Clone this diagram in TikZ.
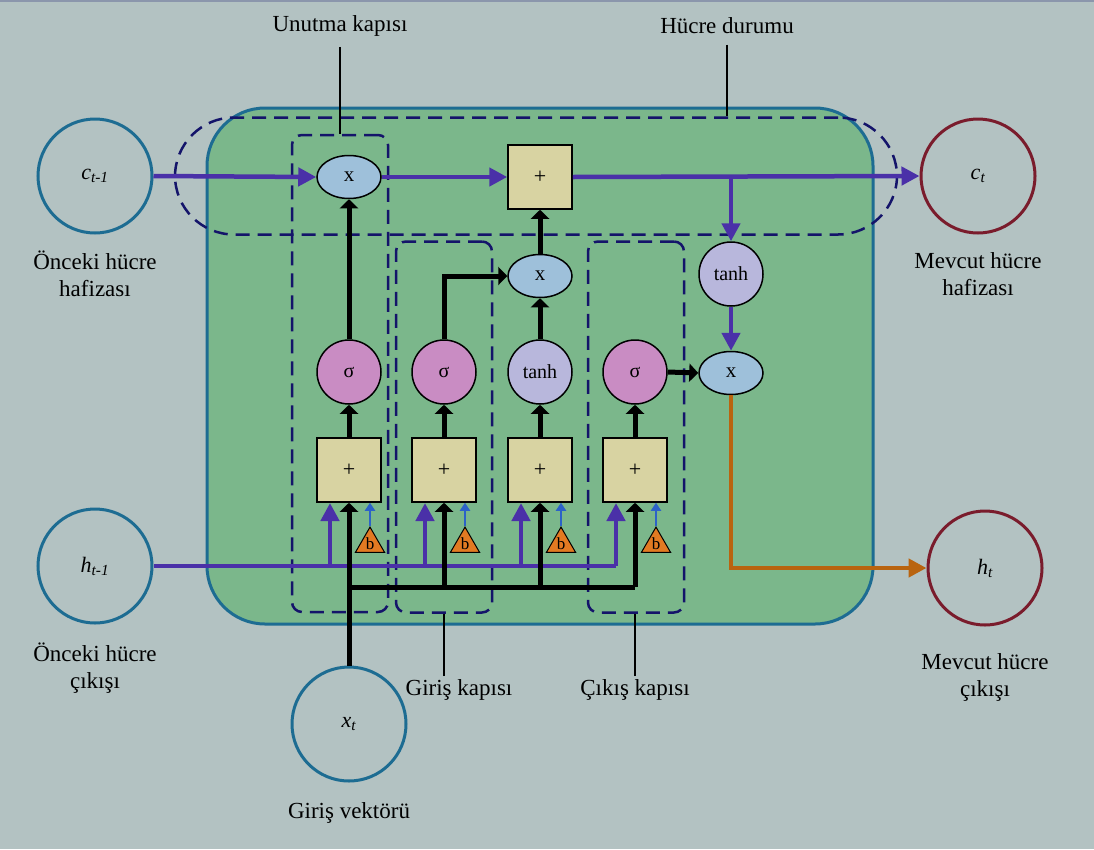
\documentclass[tikz,border=0pt]{standalone}
\usepackage{fontspec}
\setmainfont{Liberation Serif}
\usetikzlibrary{arrows.meta,positioning,shapes.geometric}
\definecolor{lstmbg}{HTML}{B3C2C2}
\definecolor{lstmgreen}{HTML}{7BB78B}
\definecolor{lstmteal}{HTML}{1D6C92}
\definecolor{lstmred}{HTML}{7A1C2C}
\definecolor{lstmpurple}{HTML}{4A30A8}
\definecolor{lstmorange}{HTML}{B9640F}
\definecolor{lstmnavy}{HTML}{14146A}
\definecolor{lstmtan}{HTML}{D8D3A2}
\definecolor{lstmpink}{HTML}{C98CC3}
\definecolor{lstmlav}{HTML}{B8B7DC}
\definecolor{lstmsky}{HTML}{9EC0DA}
\definecolor{lstmbias}{HTML}{E27A22}
\definecolor{lstmthin}{HTML}{2C62C8}

\begin{document}
\begin{tikzpicture}[x=1pt,y=-1pt,font=\fontsize{23}{27}\selectfont,
  port/.style={circle,draw=lstmteal,line width=3pt,minimum size=114pt,inner sep=0pt,font=\fontsize{22}{24}\selectfont\itshape},
  outport/.style={port,draw=lstmred},
  mult/.style={ellipse,draw,line width=1.5pt,fill=lstmsky,minimum width=64pt,minimum height=43pt,inner sep=0pt,font=\fontsize{21}{20}\selectfont},
  addbox/.style={rectangle,draw,line width=1.5pt,fill=lstmtan,minimum size=64pt,inner sep=0pt,font=\fontsize{22}{20}\selectfont},
  act/.style={circle,draw,line width=1.5pt,minimum size=64pt,inner sep=0pt,font=\fontsize{20}{20}\selectfont},
  sig/.style={act,fill=lstmpink},
  tnh/.style={act,fill=lstmlav},
  bias/.style={regular polygon,regular polygon sides=3,draw,line width=1pt,fill=lstmbias,minimum size=32pt,inner sep=0pt,font=\fontsize{17}{16}\selectfont},
  gatebox/.style={draw=lstmnavy,line width=2.5pt,dash pattern=on 14pt off 8pt,rounded corners=10pt,inner sep=0pt},
  tagline/.style={line width=2.5pt},
  violet/.style={line width=4.5pt,lstmpurple},
  violetarrow/.style={violet,-{Triangle[length=18pt,width=18pt]}},
  blackarrow/.style={line width=5pt,-{Triangle[length=9pt,width=18pt]}},
  biasarrow/.style={line width=2pt,lstmthin,-{Triangle[length=8pt,width=10pt]}},
  outarrow/.style={line width=4.5pt,lstmorange,-{Triangle[length=18pt,width=18pt]}}]

  \useasboundingbox (0,0) rectangle (1094,849);
  \fill[lstmbg] (0,0) rectangle (1094,849);
  \fill[lstmbg!75!lstmnavy] (0,0) rectangle (1094,2);

  % cell body
  \draw[draw=lstmteal,line width=3pt,fill=lstmgreen,rounded corners=58pt] (207,108) rectangle (873,624);

  % dashed groups
  \node[gatebox,rounded corners=59pt,minimum width=722pt,minimum height=117pt] (statebox) at (536,176) {};
  \node[gatebox,minimum width=96pt,minimum height=477pt] (fbox) at (340,373.5) {};
  \node[gatebox,minimum width=96pt,minimum height=371pt] (ibox) at (444,427) {};
  \node[gatebox,minimum width=96pt,minimum height=371pt] (obox) at (636,427) {};

  % outside circles
  \node[port] (cprev) at (95,176) {c\textsubscript{t-1}};
  \node[outport] (cnext) at (978,176) {c\textsubscript{t}};
  \node[port] (hprev) at (95,566) {h\textsubscript{t-1}};
  \node[outport] (hnext) at (985,568) {h\textsubscript{t}};
  \node[port] (xin) at (349,724) {x\textsubscript{t}};

  \node[align=center] (cprevlab) at (95,274) {Önceki hücre\\hafizası};
  \node[align=center] (cnextlab) at (978,274) {Mevcut hücre\\hafizası};
  \node[align=center] (hprevlab) at (95,668) {Önceki hücre\\çıkışı};
  \node[align=center] (hnextlab) at (985,677) {Mevcut hücre\\çıkışı};
  \node (xinlab) at (349,813) {Giriş vektörü};

  % gate labels
  \node (flab) at (340,26) {Unutma kapısı};
  \node (clab) at (727,26) {Hücre durumu};
  \node (ilab) at (459,690) {Giriş kapısı};
  \node (olab) at (635,690) {Çıkış kapısı};
  \draw[tagline] ([yshift=-7pt]flab.south) -- (flab |- fbox.north);
  \draw[tagline] ([yshift=-7pt]clab.south) -- (clab |- statebox.north);
  \draw[tagline] (ibox.south |- ilab.north) -- (ibox.south);
  \draw[tagline] (olab.north) -- (olab |- obox.south);

  % operations
  \node[mult] (fx) at (349,177) {x};
  \node[addbox] (cadd) at (540,177) {+};
  \node[mult] (ix) at (540,276) {x};
  \node[tnh] (otanh) at (731,274) {tanh};
  \node[mult] (ox) at (731,373) {x};

  \foreach \i/\x/\s/\t in {1/349/sig/σ,2/444/sig/σ,3/540/tnh/tanh,4/635/sig/σ} {
    \node[\s] (g\i) at (\x,372) {\t};
    \node[addbox] (s\i) at (\x,470) {+};
    \node[bias] (b\i) at (\x+21,544) {\raisebox{-3pt}{b}};
    \coordinate (p\i) at (\x-19,503);
    \draw[blackarrow] (s\i.north) -- (g\i.south);
    \draw[biasarrow] (b\i.north) -- (b\i.north |- s\i.south);
  }

  % previous output and input
  \draw[violet] (hprev.east) -- (p4 |- hprev.east);
  \foreach \i in {1,...,4}
    \draw[violetarrow] (p\i |- hprev.east) -- (p\i);
  \coordinate (xbus) at (349,587);
  \draw[line width=5pt] (xbus) -- (xbus -| s4.south);
  \draw[blackarrow] (xin.north) -- (s1.south);
  \foreach \i in {2,3,4}
    \draw[blackarrow] (xbus -| s\i.south) -- (s\i.south);

  % gates
  \draw[blackarrow] (g1.north) -- (fx.south);
  \draw[blackarrow] (g2.north) |- (ix.west);
  \draw[blackarrow] (g3.north) -- (ix.south);
  \draw[blackarrow] (ix.north) -- (cadd.south);
  \draw[blackarrow] (g4.east) -- (ox.west);

  % cell state
  \draw[violetarrow] (cprev.east) -- (fx.west);
  \draw[violetarrow] (fx.east) -- (cadd.west);
  \draw[violetarrow] (cadd.east) -- (cnext.west);
  \draw[violetarrow] (otanh |- cadd.east) -- (otanh.north);
  \draw[violetarrow] (otanh.south) -- (ox.north);
  \draw[outarrow] (ox.south) |- (hnext.west);
\end{tikzpicture}
\end{document}
